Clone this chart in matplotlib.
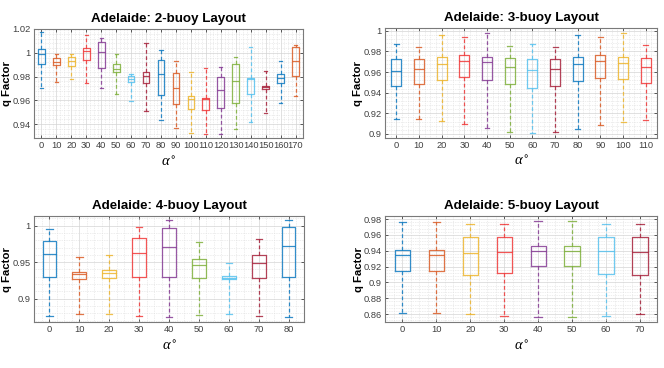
import matplotlib
matplotlib.use('Agg')
import matplotlib.pyplot as plt
from matplotlib.ticker import AutoMinorLocator, FuncFormatter

plt.rcParams['font.family'] = ['Liberation Sans', 'DejaVu Sans']
plt.rcParams['mathtext.fontset'] = 'custom'
plt.rcParams['mathtext.it'] = 'Liberation Serif:italic'

# matlab-ish colour order used by the boxes
box_colors = ['#0072BD', '#D95319', '#EDB120', '#F02C2C',
              '#7E2F8E', '#77AC30', '#4DBEEE', '#A2142F']

# ---- 2-buoy ----
two_angles = [0, 10, 20, 30, 40, 50, 60, 70, 80, 90, 100, 110, 120, 130, 140, 150, 160, 170]
two_lo = [0.9707, 0.9758, 0.9777, 0.9749, 0.9701, 0.9656, 0.9593, 0.9514, 0.9436,
          0.9368, 0.9330, 0.9314, 0.9317, 0.9359, 0.9421, 0.9497, 0.9574, 0.9639]
two_q1 = [0.9904, 0.9896, 0.9893, 0.9938, 0.9876, 0.9836, 0.9752, 0.9743, 0.9647,
          0.9568, 0.9531, 0.9523, 0.9534, 0.9580, 0.9650, 0.9695, 0.9749, 0.9808]
two_med = [0.9992, 0.9919, 0.9930, 1.0014, 1.0003, 0.9868, 0.9780, 0.9808, 0.9820,
           0.9703, 0.9614, 0.9610, 0.9684, 0.9766, 0.9780, 0.9709, 0.9786, 0.9932]
two_q3 = [1.0034, 0.9958, 0.9966, 1.0042, 1.0088, 0.9902, 0.9803, 0.9836, 0.9938,
          0.9831, 0.9636, 0.9619, 0.9797, 0.9902, 0.9792, 0.9724, 0.9825, 1.0046]
two_hi = [1.0173, 0.9986, 0.9986, 1.0147, 1.0122, 0.9986, 0.9825, 1.0080, 1.0023,
          0.9927, 0.9836, 0.9876, 0.9881, 0.9966, 1.0046, 0.9845, 0.9927, 1.0063]

# ---- 3-buoy ----
three_angles = [0, 10, 20, 30, 40, 50, 60, 70, 80, 90, 100, 110]
three_lo = [0.9144, 0.9144, 0.9125, 0.9096, 0.9058, 0.9019, 0.9007, 0.9016, 0.9048, 0.9084, 0.9112, 0.9132]
three_q1 = [0.9468, 0.9480, 0.9525, 0.9548, 0.9525, 0.9480, 0.9445, 0.9468, 0.9516, 0.9545, 0.9535, 0.9497]
three_med = [0.9612, 0.9631, 0.9679, 0.9708, 0.9698, 0.9650, 0.9621, 0.9631, 0.9679, 0.9708, 0.9692, 0.9644]
three_q3 = [0.9723, 0.9730, 0.9746, 0.9766, 0.9746, 0.9733, 0.9723, 0.9723, 0.9746, 0.9766, 0.9743, 0.9737]
three_hi = [0.9871, 0.9842, 0.9954, 0.9935, 0.9977, 0.9855, 0.9871, 0.9842, 0.9958, 0.9935, 0.9977, 0.9858]

# ---- 4-buoy ----
four_angles = [0, 10, 20, 30, 40, 50, 60, 70, 80]
four_lo = [0.8759, 0.8786, 0.8786, 0.8763, 0.8745, 0.8777, 0.8786, 0.8767, 0.8745]
four_q1 = [0.9297, 0.9270, 0.9284, 0.9297, 0.9301, 0.9279, 0.9266, 0.9279, 0.9297]
four_med = [0.9608, 0.9343, 0.9348, 0.9626, 0.9704, 0.9462, 0.9288, 0.9485, 0.9718]
four_q3 = [0.9786, 0.9362, 0.9389, 0.9827, 0.9964, 0.9544, 0.9307, 0.9594, 0.9978]
four_hi = [0.9959, 0.9571, 0.9603, 0.9986, 1.0074, 0.9777, 0.9493, 0.9818, 1.0074]

# ---- 5-buoy ----
five_angles = [0, 10, 20, 30, 40, 50, 60, 70]
five_lo = [0.8616, 0.8616, 0.8600, 0.8575, 0.8562, 0.8562, 0.8575, 0.8600]
five_q1 = [0.9140, 0.9140, 0.9090, 0.9115, 0.9206, 0.9206, 0.9110, 0.9090]
five_med = [0.9340, 0.9340, 0.9373, 0.9386, 0.9391, 0.9391, 0.9391, 0.9378]
five_q3 = [0.9403, 0.9403, 0.9574, 0.9574, 0.9454, 0.9454, 0.9574, 0.9574]
five_hi = [0.9767, 0.9767, 0.9742, 0.9742, 0.9775, 0.9779, 0.9742, 0.9742]


def fmt_tick(v, pos):
    return '%g' % round(v, 4)


def draw_panel(ax, angles, lo, q1, med, q3, hi, title, ylim, yticks):
    stats = []
    for i in range(len(angles)):
        stats.append(dict(whislo=lo[i], q1=q1[i], med=med[i], q3=q3[i],
                          whishi=hi[i], fliers=[]))
    pos = list(range(1, len(angles) + 1))
    bp = ax.bxp(stats, positions=pos, widths=0.45, capwidths=0.22,
                showfliers=False, manage_ticks=False)
    for i in range(len(angles)):
        c = box_colors[i % len(box_colors)]
        bp['boxes'][i].set(color=c, linewidth=0.9, alpha=0.8)
        bp['medians'][i].set(color=c, linewidth=0.9, alpha=0.8)
        for w in bp['whiskers'][2 * i:2 * i + 2]:
            w.set(color=c, linewidth=0.9, linestyle=(0, (3, 2)), alpha=0.8)
        for cp in bp['caps'][2 * i:2 * i + 2]:
            cp.set(color=c, linewidth=0.9, alpha=0.8)

    ax.set_xlim(0.5, len(angles) + 0.5)
    ax.set_xticks(pos)
    ax.set_xticklabels([str(a) for a in angles])
    ax.set_ylim(ylim)
    ax.set_yticks(yticks)
    ax.yaxis.set_major_formatter(FuncFormatter(fmt_tick))
    ax.yaxis.set_minor_locator(AutoMinorLocator(5))
    ax.xaxis.set_minor_locator(AutoMinorLocator(4))

    ax.grid(True, which='major', color='#d4d4d4', linewidth=0.5, linestyle='-')
    ax.grid(True, which='minor', color='#dcdcdc', linewidth=0.5, linestyle=(0, (1, 1.5)))
    ax.set_axisbelow(True)

    ax.tick_params(which='major', direction='in', top=True, right=True,
                   length=2.5, width=0.6, labelsize=6.7, colors='#404040', pad=2.5)
    ax.tick_params(which='minor', length=0)
    for sp in ax.spines.values():
        sp.set_color('#7a7a7a')
        sp.set_linewidth(0.8)

    ax.set_title(title, fontsize=9.6, fontweight='bold', pad=5)
    ax.set_xlabel(r'$\alpha^{\circ}$', fontsize=10.5, labelpad=3)
    ax.set_ylabel('q Factor', fontsize=8.2, fontweight='bold')


fig = plt.figure(figsize=(6.64, 3.68), dpi=100)

ax1 = fig.add_axes([0.0512, 0.625, 0.4051, 0.2962])
ax2 = fig.add_axes([0.5798, 0.6258, 0.4097, 0.2972])
ax3 = fig.add_axes([0.0517, 0.125, 0.4057, 0.288])
ax4 = fig.add_axes([0.5803, 0.125, 0.4092, 0.2872])

draw_panel(ax1, two_angles, two_lo, two_q1, two_med, two_q3, two_hi,
           'Adelaide: 2-buoy Layout', (0.9284, 1.02), [0.94, 0.96, 0.98, 1.0, 1.02])
draw_panel(ax2, three_angles, three_lo, three_q1, three_med, three_q3, three_hi,
           'Adelaide: 3-buoy Layout', (0.8964, 1.0023), [0.9, 0.92, 0.94, 0.96, 0.98, 1.0])
draw_panel(ax3, four_angles, four_lo, four_q1, four_med, four_q3, four_hi,
           'Adelaide: 4-buoy Layout', (0.868, 1.0133), [0.9, 0.95, 1.0])
draw_panel(ax4, five_angles, five_lo, five_q1, five_med, five_q3, five_hi,
           'Adelaide: 5-buoy Layout', (0.85, 0.9834), [0.86, 0.88, 0.9, 0.92, 0.94, 0.96, 0.98])

ax1.yaxis.set_label_coords(-0.082, 0.5)
ax3.yaxis.set_label_coords(-0.082, 0.5)
ax2.yaxis.set_label_coords(-0.08, 0.5)
ax4.yaxis.set_label_coords(-0.08, 0.5)

fig.savefig('out.png', dpi=100)
